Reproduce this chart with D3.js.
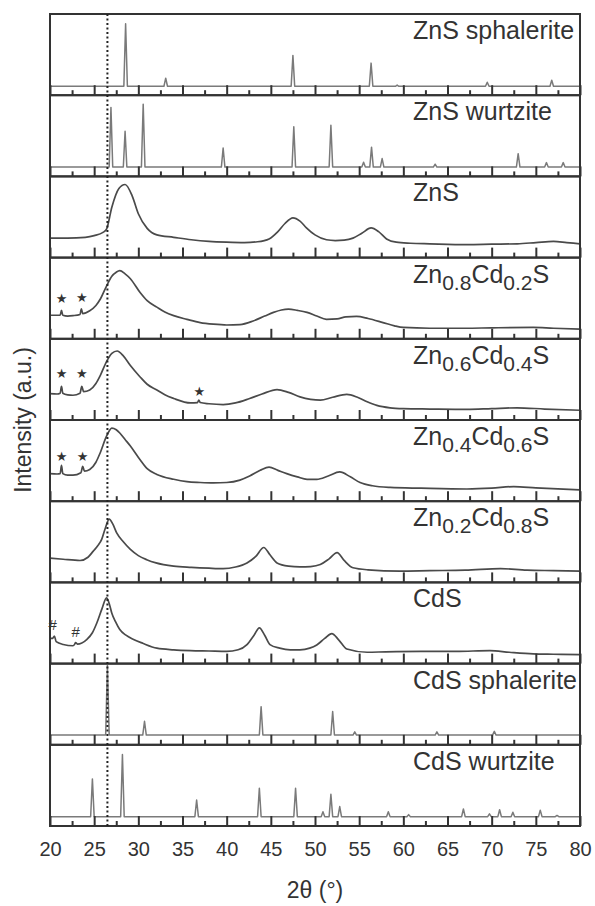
<!DOCTYPE html>
<html><head><meta charset="utf-8">
<script src="https://cdn.jsdelivr.net/npm/d3@7/dist/d3.min.js"></script>
<style>body{margin:0;background:#fff}svg{display:block}</style>
</head><body>
<svg id="chart" width="595" height="906"></svg>
<script>
// ---------------- DATA ----------------
const xMajorTicks = [20,25,30,35,40,45,50,55,60,65,70,75,80];
const xMinorTicks = [22.5,27.5,32.5,37.5,42.5,47.5,52.5,57.5,62.5,67.5,72.5,77.5];
const xTitle = "2θ (°)";
const yTitle = "Intensity (a.u.)";
const markerLine = 26.5;

// Panel labels (segments: [text, isSubscript])
const panelLabels = [
  [["ZnS sphalerite",0]],
  [["ZnS wurtzite",0]],
  [["ZnS",0]],
  [["Zn",0],["0.8",1],["Cd",0],["0.2",1],["S",0]],
  [["Zn",0],["0.6",1],["Cd",0],["0.4",1],["S",0]],
  [["Zn",0],["0.4",1],["Cd",0],["0.6",1],["S",0]],
  [["Zn",0],["0.2",1],["Cd",0],["0.8",1],["S",0]],
  [["CdS",0]],
  [["CdS sphalerite",0]],
  [["CdS wurtzite",0]]
];

// Reference patterns: baseline level and peaks [2θ, relative height] (panel units 0-100)
const znsSphaleriteBase = 11;
const znsSphaleritePeaks = [[28.56,88],[33.1,21],[47.5,49],[56.35,39.5],[59.3,12.5],[69.5,16],[76.8,18.5]];
const znsWurtziteBase = 11.5;
const znsWurtzitePeaks = [[26.9,85],[28.5,55.5],[30.55,89],[39.6,35],[47.6,61],[51.8,63],[55.5,17.5],[56.4,36],[57.6,22],[63.6,15],[73.0,28],[76.2,17],[78.1,17]];
const cdsSphaleriteBase = 12;
const cdsSphaleritePeaks = [[26.5,98],[30.7,29],[43.9,47],[52.0,41],[54.5,16],[63.8,16],[70.3,16.5]];
const cdsWurtziteBase = 11.5;
const cdsWurtzitePeaks = [[24.8,58],[28.2,88],[36.6,32],[43.7,46.5],[47.8,46.5],[50.9,17.5],[51.8,39],[52.8,24],[58.3,17.5],[60.6,14],[66.8,21],[69.75,15],[70.9,20],[72.4,17],[75.5,19.5],[77.4,13]];

// Measured patterns: [2θ, intensity] (panel units 0-100)
const znsData = [[20,24],[22,24],[24,25],[25,27],[26,31],[26.4,35],[27,62],[27.8,85],[28.5,90],[29.3,76],[30,54],[31,36],[32.1,28],[34,25],[36,22],[38,20],[40,19],[42,18.5],[43.5,19.5],[44.8,23],[45.8,32],[46.6,42],[47.5,49],[48.3,45],[49,37],[50,28],[51.3,22],[52.3,21],[53.3,21.5],[54.3,24],[55.3,30],[56.35,36.5],[57.2,32],[58.1,23],[59.2,19],[60.8,17.7],[63,17],[67.2,16],[70,16.5],[72.9,17],[75,18.5],[77,20],[78.5,18.5],[80,17]];
const zn08Data = [[20,29],[20.8,29],[21.15,29],[21.3,35],[21.45,29],[22,28],[22.6,28.5],[23.4,30],[23.55,37],[23.7,31],[24.5,34.5],[25.2,41],[25.7,49],[26.4,65],[27,77],[27.5,82],[27.9,84],[28.5,80],[29.1,74],[30.2,57],[31,47],[32.1,39],[33,33],[34,28.5],[35.5,24],[37,20],[38.5,18],[40,17],[41.5,17.5],[43,22],[44.3,28],[45.3,32.5],[46.2,35.5],[47,36.5],[48,35],[49.1,32.5],[50.2,28],[51.3,24],[52.5,24.5],[53.5,27],[54.7,27.5],[56,25],[57.7,20],[59,16],[60,14],[63,13],[67,13],[70,13.5],[74.7,14],[77,13],[80,12]];
const zn06Data = [[20,32.5],[20.8,32],[21.15,33],[21.3,41.5],[21.45,33],[22,31],[22.6,30.5],[23.4,33],[23.6,41.5],[23.8,35],[24.5,37],[25.2,45],[25.7,55],[26.4,72],[27,82],[27.6,85],[28.3,79],[29.1,67],[30.2,53],[31,44],[32.1,37],[33,31],[34,26.5],[35.9,21],[36.7,21.5],[36.85,24.5],[37,21.5],[38,20],[39.6,19],[41,21],[42.6,26.5],[44,32],[45.7,37.5],[47,34],[48.3,28.5],[49.5,25.5],[50.6,24.5],[52,28],[53.6,31.5],[54.8,28],[55.9,22.5],[57,18],[58.5,15],[60,14],[63,13.5],[67.2,13],[70,14],[72.9,15],[76,13.5],[80,12]];
const zn04Data = [[20,34],[20.8,33.5],[21.15,34],[21.3,44],[21.45,34],[22,32],[22.6,32],[23.5,35],[23.7,43],[23.9,37],[24.5,39],[25.2,48],[25.7,60],[26.4,80],[27,90],[27.5,88],[27.9,84],[28.5,76],[29.1,68],[30.2,51],[31,40],[32.1,33],[34,27],[35.5,24],[37,23],[38.5,22.5],[40,23],[41.5,26],[42.6,31],[43.8,38],[44.8,42],[45.8,38],[46.8,34],[48,30],[49.1,27],[50.2,27],[51.5,31],[52.8,36],[54,30],[55.1,23],[56.5,19],[58.5,17],[62,16],[67.2,15],[70,16],[72.5,18],[75,16.5],[80,14]];
const zn02Data = [[20,30],[21.5,28.5],[23.4,27],[24.3,31],[24.9,38.5],[25.4,45],[25.85,53],[26.3,68],[26.7,78],[27.1,72],[27.55,61],[28.3,50],[29.1,40.6],[30,33],[30.95,28],[32,24],[34,20],[36,18.5],[38,17.5],[39.6,17],[41,19],[42.3,24],[43.3,32],[44.2,43],[44.9,34],[45.7,24],[47,20],[48.3,19],[49.5,19.5],[50.6,22],[51.6,29],[52.5,36.6],[53.3,27],[54.3,18],[56,15.5],[59.6,14],[63,14.5],[67,15],[71,17],[74,15],[77,14.5],[80,14]];
const cdsData = [[20,31],[20.3,31],[20.5,34],[20.7,27],[21.5,23.5],[22.6,22],[22.8,24],[22.9,26],[23.1,24],[24.15,29.6],[24.8,38],[25.3,50],[25.9,68],[26.4,81],[26.7,74],[27,62],[27.4,52],[27.9,42],[28.6,35],[29.4,30],[30.5,25],[32.1,19],[34,17],[35.9,16],[38,15.5],[40,15],[41.3,17],[42.3,23.4],[43.1,35],[43.7,44],[44.3,35],[44.9,23.4],[46,19],[47.2,17],[48.3,17],[49.4,19],[50.2,23],[51.1,31],[51.9,37],[52.7,29],[53.6,18],[55.9,14],[58,14.5],[62,15],[66,15],[69.8,16],[72,14],[74.7,12],[77,11.5],[80,11]];

// Annotation markers: [panel index, 2θ, level, symbol]
const markers = [
  [3,21.3,50,"★"],[3,23.6,51,"★"],
  [4,21.3,57,"★"],[4,23.6,57,"★"],[4,36.9,35,"★"],
  [5,21.3,55.5,"★"],[5,23.7,55,"★"],
  [7,20.3,48,"#"],[7,22.9,39,"#"]
];

// ---------------- LAYOUT ----------------
const plotLeft = 50, plotRight = 580, plotTop = 14, panelH = 81.2, nPanels = 10;
const plotBottom = plotTop + panelH * nPanels;
const svg = d3.select("#chart");
const font = "'Liberation Sans', Arial, Helvetica, sans-serif";

const x = d3.scaleLinear().domain([20,80]).range([plotLeft,plotRight]);

function stickPattern(base, peaks){
  const pts = [[20,base]];
  peaks.forEach(([p,h]) => { pts.push([p-0.2,base],[p,h],[p+0.2,base]); });
  pts.push([80,base]);
  return pts;
}

const series = [
  {data: stickPattern(znsSphaleriteBase, znsSphaleritePeaks), ref:true},
  {data: stickPattern(znsWurtziteBase, znsWurtzitePeaks), ref:true},
  {data: znsData, ref:false},
  {data: zn08Data, ref:false},
  {data: zn06Data, ref:false},
  {data: zn04Data, ref:false},
  {data: zn02Data, ref:false},
  {data: cdsData, ref:false},
  {data: stickPattern(cdsSphaleriteBase, cdsSphaleritePeaks), ref:true},
  {data: stickPattern(cdsWurtziteBase, cdsWurtzitePeaks), ref:true}
];

series.forEach((s,i) => {
  const y0 = plotTop + panelH*(i+1), y1 = plotTop + panelH*i;
  const y = d3.scaleLinear().domain([0,100]).range([y0,y1]);
  const g = svg.append("g");
  const line = d3.line().x(d=>x(d[0])).y(d=>y(d[1]))
    .curve(s.ref ? d3.curveLinear : d3.curveMonotoneX);
  g.append("path").datum(s.data).attr("d", line)
    .attr("fill","none")
    .attr("stroke", s.ref ? "#7a7a7a" : "#4a4a4a")
    .attr("stroke-width", s.ref ? 1.5 : 1.7)
    .attr("stroke-linejoin","round");

  const minorAx = d3.axisBottom(x).tickValues(xMinorTicks).tickSize(-5).tickFormat("");
  const majorAx = d3.axisBottom(x).tickValues(xMajorTicks).tickSize(-10).tickFormat("");
  [minorAx, majorAx].forEach(ax => {
    const a = g.append("g").attr("transform",`translate(0,${y0})`).call(ax);
    a.select(".domain").remove();
    a.selectAll("line").attr("stroke","#333").attr("stroke-width",2);
  });

  const t = g.append("text").attr("x", 413).attr("y", y1 + 25)
    .attr("font-family", font).attr("font-size", 25).attr("fill","#333");
  let sub = false;
  panelLabels[i].forEach(([txt,isSub]) => {
    const ts = t.append("tspan").text(txt);
    if (isSub && !sub) { ts.attr("dy",7).attr("font-size",21); sub = true; }
    else if (isSub) { ts.attr("font-size",21); }
    else if (!isSub && sub) { ts.attr("dy",-7); sub = false; }
  });

  markers.filter(m=>m[0]===i).forEach(m => {
    g.append("text").attr("x", x(m[1])).attr("y", y(m[2]))
      .attr("text-anchor","middle").attr("dominant-baseline","central")
      .attr("font-family", m[3]==="★" ? "'DejaVu Sans', sans-serif" : font)
      .attr("font-size", m[3]==="★" ? 13 : 15).attr("fill","#333").text(m[3]);
  });

  g.append("rect").attr("x", plotLeft).attr("y", y1).attr("width", plotRight-plotLeft).attr("height", panelH)
    .attr("fill","none").attr("stroke","#333").attr("stroke-width",2);
});

svg.append("line").attr("x1", x(markerLine)).attr("x2", x(markerLine))
  .attr("y1", plotTop).attr("y2", plotBottom)
  .attr("stroke","#222").attr("stroke-width",2).attr("stroke-dasharray","2,2.5");

const labAx = d3.axisBottom(x).tickValues(xMajorTicks).tickSize(0).tickPadding(16).tickFormat(d3.format("d"));
const la = svg.append("g").attr("transform",`translate(0,${plotBottom})`).call(labAx);
la.select(".domain").remove();
la.selectAll("text").attr("font-family", font).attr("font-size", 20).attr("fill","#333");

svg.append("text").attr("x", (plotLeft+plotRight)/2).attr("y", 898).attr("text-anchor","middle")
  .attr("font-family", font).attr("font-size", 23).attr("fill","#333").text(xTitle);
svg.append("text").attr("transform", `translate(31,${(plotTop+plotBottom)/2}) rotate(-90)`)
  .attr("text-anchor","middle").attr("font-family", font).attr("font-size", 23)
  .attr("fill","#333").text(yTitle);
</script>
</body></html>
